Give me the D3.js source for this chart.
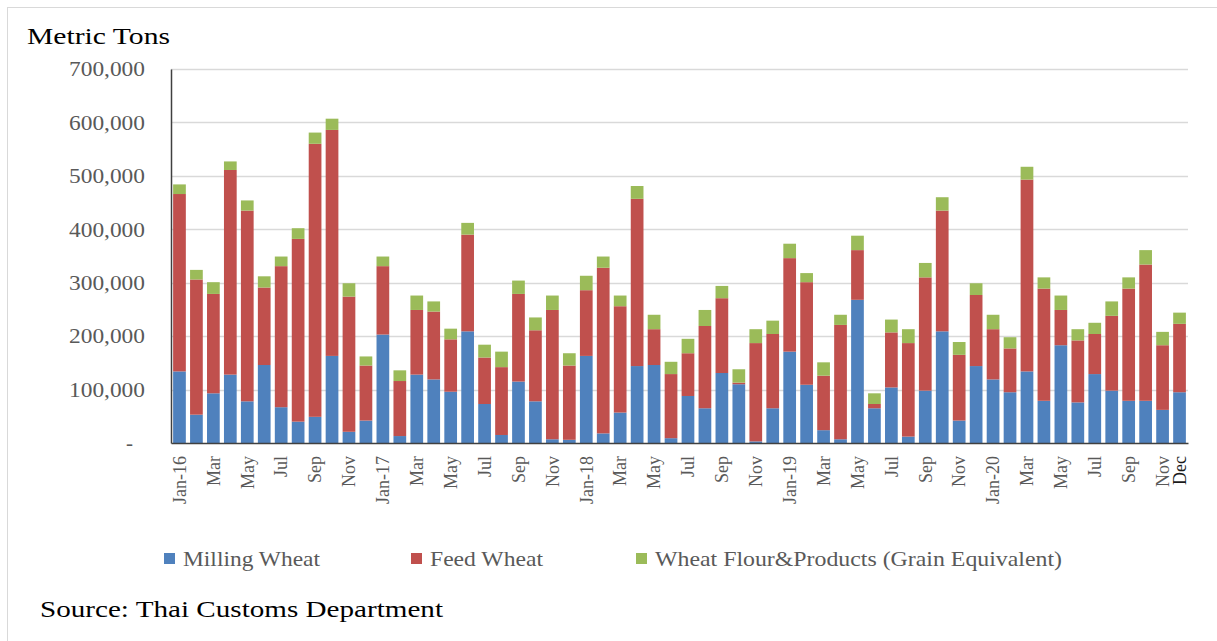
<!DOCTYPE html>
<html>
<head>
<meta charset="utf-8">
<script src="https://cdn.jsdelivr.net/npm/d3@7"></script>
<style>
  html, body { margin: 0; padding: 0; background: #fff; }
  svg { display: block; }
  text { font-family: "Liberation Serif", "Times New Roman", serif; }
</style>
</head>
<body>
<div id="chart"></div>
<script>
// months Jan-16 .. Dec-20
const months = [];
for (let y = 16; y <= 20; y++) {
    ["Jan","Feb","Mar","Apr","May","Jun","Jul","Aug","Sep","Oct","Nov","Dec"].forEach(m => months.push(m + "-" + y));
}

// metric tons
const millingWheat = [
    134000, 53000, 93000, 128000, 78000, 146000, 67000, 40000, 49000, 163000, 21000, 42000,
    203000, 13000, 128000, 119000, 96000, 209000, 73000, 15000, 115000, 78000, 7000, 6000,
    163000, 18000, 57000, 144000, 146000, 9000, 88000, 65000, 131000, 110000, 3000, 65000,
    171000, 109000, 24000, 7000, 268000, 65000, 104000, 12000, 98000, 209000, 42000, 144000,
    119000, 95000, 134000, 79000, 183000, 76000, 129000, 98000, 79000, 79000, 62000, 95000
];
const feedWheat = [
    332000, 253000, 186000, 383000, 357000, 145000, 264000, 342000, 511000, 423000, 253000, 103000,
    128000, 103000, 121000, 127000, 98000, 181000, 87000, 127000, 164000, 133000, 242000, 139000,
    123000, 310000, 199000, 313000, 67000, 120000, 80000, 154000, 140000, 3000, 184000, 139000,
    175000, 192000, 102000, 214000, 93000, 8000, 103000, 175000, 212000, 226000, 123000, 133000,
    94000, 82000, 359000, 210000, 66000, 116000, 75000, 140000, 210000, 255000, 121000, 128000
];
const flourProducts = [
    18000, 18000, 22000, 16000, 19000, 21000, 18000, 20000, 21000, 21000, 25000, 17000,
    18000, 20000, 27000, 19000, 20000, 22000, 24000, 29000, 25000, 24000, 27000, 23000,
    27000, 21000, 20000, 24000, 27000, 23000, 27000, 30000, 23000, 25000, 26000, 25000,
    27000, 17000, 25000, 19000, 27000, 20000, 24000, 26000, 27000, 25000, 24000, 22000,
    27000, 21000, 24000, 21000, 27000, 21000, 21000, 27000, 21000, 27000, 25000, 21000
];

const seriesNames = ["Milling Wheat", "Feed Wheat", "Wheat Flour&Products (Grain Equivalent)"];
const seriesKeys = ["milling", "feed", "flour"];
const colors = ["#4f81bd", "#c0504d", "#9bbb59"];
const yTicks = [0, 100000, 200000, 300000, 400000, 500000, 600000, 700000];

// x labels: every other month, plus the last one
function monthLabel(d, i) {
    if (i === months.length - 1) return "Dec";
    if (i % 2 !== 0) return "";
    const [m, y] = d.split("-");
    return m === "Jan" ? d : m;
}

const W = 1217, H = 641;
const margin = { left: 171, right: 1188, top: 69, bottom: 443 };

const svg = d3.select("#chart").append("svg")
    .attr("width", W)
    .attr("height", H);

// outer frame (only top and left visible)
svg.append("line").attr("x1", 7.5).attr("x2", 7.5).attr("y1", 7).attr("y2", H)
    .attr("stroke", "#d9d9d9");
svg.append("line").attr("x1", 7).attr("x2", W).attr("y1", 7.5).attr("y2", 7.5)
    .attr("stroke", "#d9d9d9");

const table = months.map((m, i) => ({
    month: m,
    milling: millingWheat[i],
    feed: feedWheat[i],
    flour: flourProducts[i]
}));

const x = d3.scaleBand()
    .domain(months)
    .range([margin.left, margin.right])
    .paddingInner(0.25)
    .paddingOuter(0.125);

const y = d3.scaleLinear()
    .domain([0, 700000])
    .range([margin.bottom, margin.top]);

// gridlines
svg.append("g")
    .selectAll("line")
    .data(yTicks.filter(t => t > 0))
    .join("line")
    .attr("x1", margin.left)
    .attr("x2", margin.right)
    .attr("y1", d => Math.round(y(d)) + 0.5)
    .attr("y2", d => Math.round(y(d)) + 0.5)
    .attr("stroke", "#d9d9d9")
    .attr("stroke-width", 1.5);

// stacked bars
const stack = d3.stack().keys(seriesKeys);
const layers = stack(table);

svg.append("g")
    .selectAll("g")
    .data(layers)
    .join("g")
    .attr("fill", (d, i) => colors[i])
    .selectAll("rect")
    .data(d => d)
    .join("rect")
    .attr("x", d => x(d.data.month))
    .attr("width", x.bandwidth())
    .attr("y", d => y(d[1]))
    .attr("height", d => y(d[0]) - y(d[1]));

// y axis
const yAxis = svg.append("g")
    .attr("transform", `translate(${margin.left},0)`)
    .call(d3.axisLeft(y)
        .tickValues(yTicks)
        .tickSize(0)
        .tickPadding(26)
        .tickFormat(d => d === 0 ? "-" : d3.format(",")(d)));
yAxis.select(".domain").attr("stroke", "#404040").attr("stroke-width", 1.5);
yAxis.selectAll(".tick text")
    .attr("fill", "#595959")
    .style("font-size", "21px")
    .style("font-family", "Liberation Serif, Times New Roman, serif")
    .attr("textLength", d => d === 0 ? null : 76)
    .attr("lengthAdjust", "spacingAndGlyphs")
    .attr("dx", d => d === 0 ? -12 : 0);

// x axis
const xAxis = svg.append("g")
    .attr("transform", `translate(0,${margin.bottom})`)
    .call(d3.axisBottom(x).tickSize(0).tickFormat(monthLabel));
xAxis.select(".domain").attr("stroke", "#404040").attr("stroke-width", 1.5);
xAxis.selectAll(".tick text")
    .attr("transform", "rotate(-90)")
    .attr("x", -13)
    .attr("y", 0)
    .attr("dy", "0.35em")
    .attr("text-anchor", "end")
    .attr("fill", (d, i) => i === months.length - 1 ? "#1a1a1a" : "#595959")
    .style("font-size", "18px")
    .style("font-family", "Liberation Serif, Times New Roman, serif");

// axis title
svg.append("text")
    .attr("x", 27)
    .attr("y", 44)
    .attr("textLength", 143)
    .attr("lengthAdjust", "spacingAndGlyphs")
    .style("font-size", "24px")
    .attr("fill", "#000")
    .text("Metric Tons");

// legend
const legendX = [183, 430, 655];
const legendW = [137, 113, 407];
const legend = svg.append("g")
    .selectAll("g")
    .data(seriesNames)
    .join("g");
legend.append("rect")
    .attr("x", (d, i) => legendX[i] - 19)
    .attr("y", 553)
    .attr("width", 11)
    .attr("height", 11)
    .attr("fill", (d, i) => colors[i]);
legend.append("text")
    .attr("x", (d, i) => legendX[i])
    .attr("y", 566)
    .attr("textLength", (d, i) => legendW[i])
    .attr("lengthAdjust", "spacingAndGlyphs")
    .style("font-size", "21px")
    .attr("fill", "#595959")
    .text(d => d);

// source note
svg.append("text")
    .attr("x", 40)
    .attr("y", 617)
    .attr("textLength", 403)
    .attr("lengthAdjust", "spacingAndGlyphs")
    .style("font-size", "23px")
    .attr("fill", "#000")
    .text("Source: Thai Customs Department");
</script>
</body>
</html>
